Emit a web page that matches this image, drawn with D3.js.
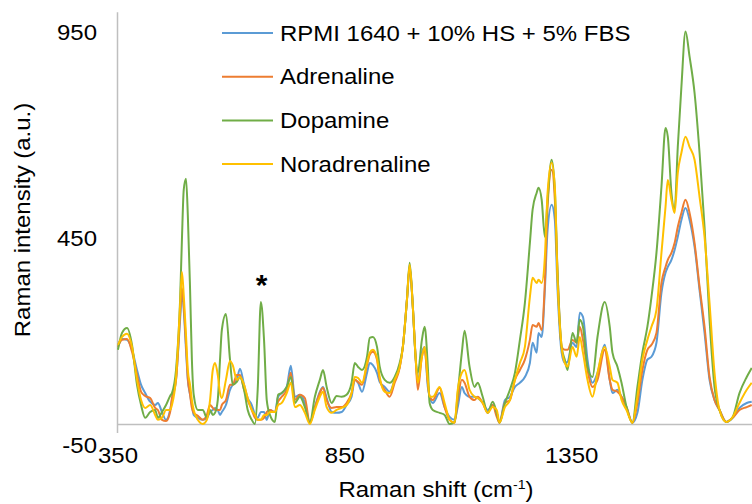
<!DOCTYPE html>
<html>
<head>
<meta charset="utf-8">
<script src="https://cdn.jsdelivr.net/npm/d3@7"></script>
<style>
  body { margin: 0; background: #fff; }
  svg { display: block; font-family: "Liberation Sans", Arial, sans-serif; }
</style>
</head>
<body>
<div class="chart"></div>
<script>
const seriesNames = ["RPMI 1640 + 10% HS + 5% FBS", "Adrenaline", "Dopamine", "Noradrenaline"];
const seriesColors = ["#5B9BD5", "#ED7D31", "#70AD47", "#FFC000"];

const xTicks = [350, 850, 1350];
const yTicks = [-50, 450, 950];

// Raman shift (cm-1)
const shift = [351, 360, 371, 382, 393, 402, 411, 422, 433, 439, 448, 457, 466, 470, 479, 488, 492, 496, 501, 505,
    510, 514, 518, 527, 538, 547, 554, 560, 565, 571, 576, 580, 589, 598, 604, 613, 620, 629, 637, 646,
    653, 659, 666, 673, 679, 686, 697, 704, 712, 723, 732, 741, 752, 763, 774, 785, 796, 803, 811, 822,
    833, 844, 855, 866, 873, 880, 889, 900, 906, 913, 922, 928, 939, 950, 961, 972, 979, 988, 994, 1001,
    1007, 1012, 1021, 1027, 1034, 1038, 1045, 1060, 1071, 1082, 1093, 1100, 1109, 1115, 1126, 1137, 1144, 1155, 1166, 1177,
    1186, 1192, 1204, 1215, 1226, 1237, 1248, 1259, 1265, 1274, 1278, 1285, 1292, 1298, 1307, 1314, 1320, 1329, 1336, 1342,
    1353, 1362, 1369, 1376, 1386, 1397, 1408, 1424, 1435, 1441, 1452, 1461, 1472, 1485, 1496, 1507, 1518, 1527, 1538, 1549,
    1558, 1563, 1571, 1578, 1585, 1593, 1602, 1611, 1622, 1633, 1644, 1655, 1666, 1677, 1692, 1706, 1721, 1737, 1748];

const rpmi = [193, 207, 205, 181, 132, 96, 76, 55, 47, 52, 30, 11, 35, 59, 108, 254, 322, 278, 181, 108,
    72, 47, 23, 16, 11, 16, 30, 35, 40, 35, 23, 30, 47, 84, 96, 108, 135, 96, 64, 47,
    23, 16, 30, 30, 11, 35, 30, 67, 76, 91, 142, 67, 72, 52, 4, 42, 79, 91, 64, 30,
    28, 30, 47, 67, 108, 101, 79, 125, 149, 144, 125, 103, 91, 79, 108, 140, 188, 302, 380, 285,
    164, 101, 174, 188, 91, 67, 52, 76, 42, 18, 11, 42, 91, 76, 67, 67, 64, 52, 35, 47,
    28, 4, 59, 67, 91, 101, 115, 149, 198, 174, 222, 212, 326, 472, 533, 496, 326, 174, 149, 152,
    198, 188, 271, 261, 157, 101, 125, 193, 108, 76, 84, 67, 42, 4, 28, 108, 157, 164, 198, 319,
    368, 382, 399, 423, 455, 496, 525, 496, 431, 326, 222, 108, 59, 35, 6, 16, 40, 52, 55];

const adrenaline = [188, 205, 207, 176, 120, 79, 69, 64, 40, 35, 11, 8, 30, 64, 108, 266, 331, 290, 193, 113,
    72, 40, 28, 21, 11, 23, 47, 40, 35, 35, 35, 47, 59, 96, 96, 120, 120, 84, 59, 35,
    16, 11, 11, 16, 30, 35, 30, 55, 67, 84, 125, 59, 72, 64, 4, 40, 76, 89, 59, 40,
    42, 42, 52, 76, 108, 103, 96, 144, 169, 176, 157, 108, 84, 67, 101, 137, 188, 302, 382, 285,
    164, 84, 164, 181, 101, 67, 59, 89, 42, 11, 4, 59, 108, 101, 67, 59, 67, 52, 28, 47,
    18, 4, 52, 59, 108, 132, 157, 205, 241, 237, 246, 229, 343, 528, 618, 545, 368, 188, 181, 181,
    205, 198, 237, 205, 132, 91, 108, 181, 108, 84, 79, 67, 42, 4, 52, 132, 181, 193, 222, 343,
    382, 399, 416, 440, 479, 513, 545, 513, 440, 334, 237, 115, 59, 35, 6, 16, 35, 42, 47];

const dopamine = [181, 222, 234, 193, 96, 47, 16, 30, 35, 16, 30, 47, 69, 76, 132, 302, 448, 569, 596, 508,
    326, 157, 72, 35, 35, 16, 35, 23, 28, 59, 157, 229, 268, 157, 96, 103, 115, 84, 35, 11,
    1, 84, 297, 205, 59, 23, 6, 72, 76, 91, 115, 52, 67, 42, 4, 67, 108, 132, 91, 52,
    69, 67, 72, 101, 149, 140, 132, 164, 210, 212, 188, 140, 108, 101, 115, 149, 188, 302, 392, 285,
    164, 125, 205, 237, 140, 52, 35, 28, 23, 1, 6, 76, 174, 227, 140, 91, 101, 67, 28, 55,
    28, 4, 52, 84, 125, 205, 295, 440, 521, 562, 574, 545, 455, 545, 642, 569, 368, 188, 157, 132,
    222, 198, 254, 237, 140, 115, 212, 297, 237, 174, 140, 101, 42, 4, 91, 174, 237, 309, 416, 576,
    719, 698, 562, 521, 673, 819, 953, 892, 804, 659, 479, 254, 91, 35, 6, 18, 76, 115, 137];

const noradrenaline = [193, 212, 220, 188, 108, 59, 40, 47, 23, 11, 16, 35, 35, 47, 113, 290, 370, 314, 217, 132,
    96, 59, 35, 11, 1, 11, 59, 132, 149, 120, 76, 64, 108, 154, 144, 108, 115, 96, 64, 35,
    23, 11, 11, 23, 23, 30, 30, 47, 52, 76, 101, 42, 47, 28, 1, 35, 67, 79, 42, 28,
    35, 40, 47, 76, 115, 113, 101, 149, 174, 181, 161, 115, 79, 76, 108, 140, 188, 302, 387, 285,
    164, 101, 164, 188, 108, 67, 67, 91, 52, 11, 4, 84, 125, 132, 84, 67, 64, 52, 28, 42,
    35, 4, 42, 59, 108, 149, 188, 309, 356, 343, 351, 343, 406, 562, 635, 576, 351, 188, 149, 140,
    188, 164, 212, 174, 108, 67, 125, 188, 140, 108, 101, 59, 35, 4, 67, 157, 205, 237, 278, 416,
    528, 593, 545, 513, 610, 659, 698, 673, 642, 552, 455, 295, 125, 35, 6, 18, 52, 84, 101];

const seriesValues = [rpmi, adrenaline, dopamine, noradrenaline];

const w = 752;
const h = 504;
const fontSize = 22;
const stretch = 1.09; // text in the picture is a bit wider than plain Arial

const xScale = d3.scaleLinear().domain([350, 1850]).range([117.5, 798]);
const yScale = d3.scaleLinear().domain([-50, 1000]).range([445, 12.2]);

const svg = d3.select(".chart")
    .append("svg")
    .attr("width", w)
    .attr("height", h);

// axis lines
svg.append("line")
    .attr("x1", xScale(350)).attr("x2", w)
    .attr("y1", yScale(0)).attr("y2", yScale(0))
    .attr("stroke", "#BFBFBF").attr("stroke-width", 1.5);

svg.append("line")
    .attr("x1", xScale(350)).attr("x2", xScale(350))
    .attr("y1", yScale(1000)).attr("y2", 433)
    .attr("stroke", "#BFBFBF").attr("stroke-width", 1.5);

// spectra
const line = d3.line()
    .x(d => xScale(d[0]))
    .y(d => yScale(d[1]))
    .curve(d3.curveMonotoneX);

seriesValues.forEach((vals, i) => {
    svg.append("path")
        .datum(shift.map((s, j) => [s, vals[j]]))
        .attr("d", line)
        .attr("fill", "none")
        .attr("stroke", seriesColors[i])
        .attr("stroke-width", 2)
        .attr("stroke-linejoin", "round");
});

// axes (labels only)
const xAxis = svg.append("g")
    .attr("transform", "translate(0," + yScale(-50) + ")")
    .call(d3.axisBottom(xScale).tickValues(xTicks).tickSize(0).tickPadding(2).tickFormat(d => String(d)));
xAxis.select(".domain").remove();
xAxis.selectAll("text")
    .attr("font-size", fontSize).attr("fill", "#000")
    .style("font-family", "Liberation Sans, Arial, sans-serif")
    .attr("transform", "scale(" + stretch + ",1)");

const yAxis = svg.append("g")
    .attr("transform", "translate(" + xScale(350) + ",0)")
    .call(d3.axisLeft(yScale).tickValues(yTicks).tickSize(0).tickPadding(18.8).tickFormat(d => String(d)));
yAxis.select(".domain").remove();
yAxis.selectAll("text")
    .attr("font-size", fontSize).attr("fill", "#000")
    .style("font-family", "Liberation Sans, Arial, sans-serif")
    .attr("transform", "scale(" + stretch + ",1)");

// axis titles
svg.append("text")
    .attr("transform", "translate(436,497) scale(" + stretch + ",1)")
    .attr("text-anchor", "middle")
    .attr("font-size", fontSize)
    .html('Raman shift (cm<tspan dy="-8" font-size="13">-1</tspan><tspan dy="8">)</tspan>');

svg.append("text")
    .attr("transform", "translate(30,220) rotate(-90) scale(" + stretch + ",1)")
    .attr("text-anchor", "middle")
    .attr("font-size", fontSize)
    .text("Raman intensity (a.u.)");

// asterisk
svg.append("text")
    .attr("x", 261.5)
    .attr("y", 295)
    .attr("text-anchor", "middle")
    .attr("font-size", 30)
    .attr("font-weight", "bold")
    .text("*");

// legend
const legend = svg.append("g");
seriesNames.forEach((name, i) => {
    const yy = 33 + i * 43.7;
    legend.append("line")
        .attr("x1", 222).attr("x2", 273)
        .attr("y1", yy).attr("y2", yy)
        .attr("stroke", seriesColors[i])
        .attr("stroke-width", 2);
    legend.append("text")
        .attr("transform", "translate(280," + yy + ") scale(" + stretch + ",1)")
        .attr("dy", "0.35em")
        .attr("font-size", fontSize)
        .text(name);
});
</script>
</body>
</html>
